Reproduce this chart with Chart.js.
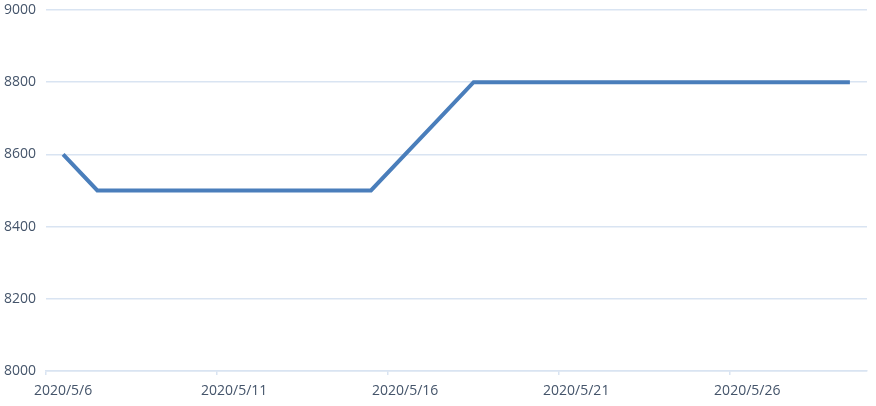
<!DOCTYPE html>
<html>
<head>
<meta charset="utf-8">
<script src="https://cdn.jsdelivr.net/npm/chart.js@4/dist/chart.umd.min.js"></script>
<style>
    html, body { margin: 0; padding: 0; background: #fff; }
    #wrap { width: 876px; height: 406px; }
</style>
</head>
<body>
<div id="wrap"><canvas id="priceChart"></canvas></div>
<script>
const dates = [
    '2020/5/6', '2020/5/7', '2020/5/8', '2020/5/9', '2020/5/10', '2020/5/11',
    '2020/5/12', '2020/5/13', '2020/5/14', '2020/5/15', '2020/5/16', '2020/5/17',
    '2020/5/18', '2020/5/19', '2020/5/20', '2020/5/21', '2020/5/22', '2020/5/23',
    '2020/5/24', '2020/5/25', '2020/5/26', '2020/5/27', '2020/5/28', '2020/5/29'
];
const prices = [
    8600, 8500, 8500, 8500, 8500, 8500,
    8500, 8500, 8500, 8500, 8600, 8700,
    8800, 8800, 8800, 8800, 8800, 8800,
    8800, 8800, 8800, 8800, 8800, 8800
];
const yMin = 8000;
const yMax = 9000;
const yStep = 200;
const labelEvery = 5;

const textColor = '#44546a';
const gridColor = '#d9e4f2';

new Chart(document.getElementById('priceChart'), {
    type: 'line',
    data: {
        labels: dates,
        datasets: [{
            data: prices,
            borderColor: '#4a7ebb',
            borderWidth: 4,
            pointRadius: 0,
            tension: 0,
            fill: false
        }]
    },
    options: {
        responsive: true,
        maintainAspectRatio: false,
        animation: false,
        layout: { padding: { top: 10, right: 9, left: 0, bottom: 0 } },
        plugins: {
            legend: { display: false },
            tooltip: { enabled: false }
        },
        scales: {
            x: {
                offset: true,
                grid: {
                    offset: true,
                    drawOnChartArea: false,
                    drawTicks: true,
                    tickLength: 4,
                    lineWidth: 1.5,
                    color: ctx => ctx.index % labelEvery === 0 ? gridColor : 'rgba(0,0,0,0)'
                },
                border: { color: gridColor, width: 1.5 },
                ticks: {
                    autoSkip: false,
                    maxRotation: 0,
                    color: textColor,
                    font: { family: 'Open Sans', size: 14 },
                    padding: 8,
                    callback: function(value, index) {
                        return index % labelEvery === 0 ? dates[index] : '';
                    }
                },
                afterFit: function(axis) { axis.height = 35; }
            },
            y: {
                min: yMin,
                max: yMax,
                grid: {
                    color: gridColor,
                    drawTicks: false,
                    lineWidth: 1.5
                },
                border: { display: false },
                ticks: {
                    stepSize: yStep,
                    color: textColor,
                    font: { family: 'Open Sans', size: 14 },
                    padding: 10,
                    callback: value => String(value)
                },
                afterFit: function(axis) {
                    axis.width = 46;
                    axis.paddingTop = 0;
                    axis.paddingBottom = 0;
                }
            }
        }
    }
});
</script>
</body>
</html>
